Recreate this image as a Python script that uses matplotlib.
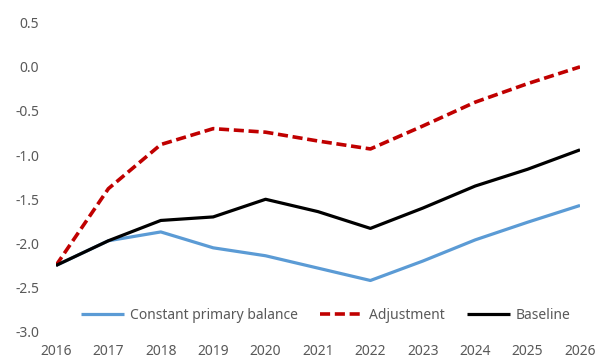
import matplotlib
matplotlib.use("Agg")
import matplotlib.pyplot as plt

years = [2016, 2017, 2018, 2019, 2020, 2021, 2022, 2023, 2024, 2025, 2026]
constant_primary = [-2.25, -1.97, -1.87, -2.05, -2.14, -2.28, -2.42, -2.20, -1.96, -1.76, -1.57]
adjustment = [-2.25, -1.38, -0.88, -0.70, -0.74, -0.84, -0.93, -0.67, -0.40, -0.19, 0.0]
baseline = [-2.25, -1.97, -1.74, -1.70, -1.50, -1.64, -1.83, -1.60, -1.35, -1.16, -0.94]
y_ticks = [0.5, 0.0, -0.5, -1.0, -1.5, -2.0, -2.5, -3.0]

plt.rcParams["font.family"] = ["Noto Sans", "DejaVu Sans"]
text_color = "#595959"

fig = plt.figure(figsize=(6.0, 3.56), dpi=100)
ax = fig.add_axes([0.0933, 0.0683, 0.8734, 0.8679])

ax.plot(years, constant_primary, color="#5B9BD5", lw=2.3, label="Constant primary balance",
        solid_joinstyle="round", solid_capstyle="butt")
ax.plot(years, adjustment, color="#C00000", lw=2.6, label="Adjustment",
        dashes=(2.8, 1.3), dash_joinstyle="round", dash_capstyle="butt")
ax.plot(years, baseline, color="#000000", lw=2.3, label="Baseline",
        solid_joinstyle="round", solid_capstyle="butt")

ax.set_xlim(2016, 2026)
ax.set_ylim(-3.0, 0.5)
ax.set_yticks(y_ticks)
ax.set_yticklabels([f"{v:.1f}" for v in y_ticks])
ax.set_xticks(years)
ax.set_xticklabels([str(y) for y in years])

for s in ax.spines.values():
    s.set_visible(False)
ax.tick_params(axis="both", length=0, labelsize=10, labelcolor=text_color)
ax.tick_params(axis="y", pad=12)
ax.tick_params(axis="x", pad=9)

leg = ax.legend(loc="center", bbox_to_anchor=(0.515, 0.054), ncol=3, frameon=False,
                fontsize=10, handlelength=3.1, handletextpad=0.4, columnspacing=1.6)
for t in leg.get_texts():
    t.set_color(text_color)

fig.savefig("out.png", dpi=100)
